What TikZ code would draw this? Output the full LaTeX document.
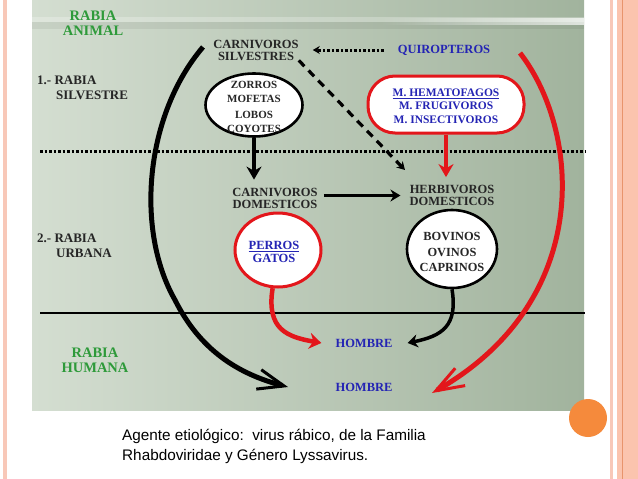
\documentclass[tikz,border=0pt]{standalone}
\usepackage{fontspec}
\setmainfont{Liberation Serif}
\newfontfamily\capfont{Liberation Sans}
\usetikzlibrary{arrows.meta,shapes.geometric,fadings}
\definecolor{panelL}{HTML}{D4DED1}
\definecolor{panelR}{HTML}{A1B39D}
\definecolor{grn}{HTML}{2E9A3A}
\definecolor{blu}{HTML}{2424B4}
\definecolor{rd}{HTML}{E3161B}
\definecolor{org}{HTML}{F58A3C}
\definecolor{pnk}{HTML}{F8C8B8}
\definecolor{salmon}{HTML}{FBC4AE}
\definecolor{salmondk}{HTML}{E8946C}
\definecolor{txt}{HTML}{262626}
\begin{document}
\begin{tikzpicture}[x=1pt,y=-1pt,
  lbl/.style={font=\bfseries\fontsize{12.5}{12}\selectfont, text=txt, align=center, inner sep=0pt},
  grnlbl/.style={font=\bfseries\fontsize{14.5}{15}\selectfont, text=grn, align=center, inner sep=0pt},
  leftlbl/.style={font=\bfseries\fontsize{13}{15.5}\selectfont, text=txt, align=left, inner sep=0pt, anchor=west},
  bluelbl/.style={font=\bfseries\fontsize{12.5}{12}\selectfont, text=blu, align=center, inner sep=0pt},
  blackbox/.style={draw=black, line width=2.6pt, fill=white, inner sep=0pt},
  redbox/.style={draw=rd, line width=3pt, fill=white, inner sep=0pt},
  caption/.style={font=\capfont\fontsize{15.3}{20}\selectfont, text=black, anchor=base west, inner sep=0pt},
  bigarc/.style={line width=5pt},
]
\useasboundingbox (0,0) rectangle (638,479);
\fill[white] (0,0) rectangle (638,479);
% page borders
\fill[pnk] (3,0) rectangle (7,479);
\fill[pnk] (610,0) rectangle (613,479);
\fill[salmon] (617,0) rectangle (638,479);
\fill[salmondk] (621.8,0) rectangle (623,479);
% panel
\shade[left color=panelL, right color=panelR] (32,0) rectangle (584,410);
\fill[black, opacity=0.06] (32,22) rectangle (584,29);
\fill[white, opacity=0.25] (32,17) rectangle (584,22);
\fill[white, opacity=0.7, path fading=west] (380,18) rectangle (584,25);
% orange dot
\fill[org] (588,418) circle (19);

% separators
\draw[line width=3pt, dash pattern=on 2.5pt off 2pt] (40,151) -- (585,151);
\draw[line width=2pt] (40,312.5) -- (585,312.5);

% text labels
\node[grnlbl] (ranimal) at (93,23) {RABIA\\ANIMAL};
\node[grnlbl] (rhumana) at (95,360) {RABIA\\HUMANA};
\node[leftlbl] (silv) at (37,88) {1.- RABIA\\\hspace*{19pt}SILVESTRE};
\node[leftlbl] (urb) at (37,246) {2.- RABIA\\\hspace*{19pt}URBANA};

\node[lbl] (csil) at (256,50) {CARNIVOROS\\SILVESTRES};
\node[bluelbl] (quiro) at (444,50) {QUIROPTEROS};
\node[lbl] (cdom) at (275,198) {CARNIVOROS\\DOMESTICOS};
\node[lbl] (herb) at (452,195.5) {HERBIVOROS\\DOMESTICOS};
\node[bluelbl] (h1) at (364,343) {HOMBRE};
\node[bluelbl] (h2) at (364,387) {HOMBRE};

% boxes
\node[blackbox, ellipse, minimum width=97pt, minimum height=63pt] (zorros) at (254,105) {};
\node[font=\bfseries\fontsize{11}{14}\selectfont, text=txt, align=center, inner sep=0pt] (zorrostxt) at (254,106.5) {ZORROS\\MOFETAS\\[2pt]LOBOS\\COYOTES};
\node[redbox, rectangle, rounded corners=27pt, minimum width=156pt, minimum height=57pt] (hema) at (446,104.5) {};
\node[font=\bfseries\fontsize{11.5}{13.5}\selectfont, text=blu, align=center, inner sep=0pt] (hematxt) at (446,106) {\underline{M. HEMATOFAGOS}\\M. FRUGIVOROS\\M. INSECTIVOROS};
\node[redbox, ellipse, minimum width=86pt, minimum height=74pt] (perros) at (278,250) {};
\node[font=\bfseries\fontsize{12.5}{13}\selectfont, text=blu, align=center, inner sep=0pt] (perrostxt) at (274,252) {\underline{PERROS}\\GATOS};
\node[blackbox, ellipse, minimum width=90pt, minimum height=78pt] (bov) at (452,249) {};
\node[font=\bfseries\fontsize{12.4}{15.5}\selectfont, text=txt, align=center, inner sep=0pt] (bovtxt) at (452,252) {BOVINOS\\OVINOS\\CAPRINOS};

% connectors
\draw[line width=3pt, dash pattern=on 2.5pt off 2pt, -{Stealth[length=7pt,width=8pt]}, shorten <=14pt, shorten >=14pt]
  (quiro.west) -- (csil.east |- quiro.west);
\coordinate (dashend) at (405,170);
\draw[line width=3.2pt, dash pattern=on 8pt off 6pt, -{Stealth[length=8pt,width=9pt]}] (csil.south east) -- (dashend);
\draw[line width=4pt, -{Stealth[length=13pt,width=15pt]}, shorten >=8pt] (zorros.south) -- (zorros.south |- cdom.north);
\draw[line width=4pt, rd, -{Stealth[length=13pt,width=15pt]}, shorten >=8pt] (hema.south) -- (hema.south |- herb.north);
\draw[line width=3pt, -{Stealth[length=10pt,width=12pt]}, shorten <=6pt, shorten >=9pt] (cdom.east |- herb.west) -- (herb.west);
\draw[line width=4.5pt, rd, -{Stealth[length=12pt,width=16pt]}] (perros.262) .. controls (266,330) and (288,337) .. ([xshift=-14pt]h1.west);
\draw[line width=3.5pt, -{Stealth[length=10pt,width=13pt]}] (bov.south) .. controls (458,326) and (442,336) .. ([xshift=15pt]h1.east);

% big arcs
\coordinate (bks) at (203,47);
\coordinate (bkm) at (175,300);
\coordinate (bke) at (288,387);
\draw[bigarc, -{Straight Barb[length=26pt,width=20pt,line width=3pt]}]
  (bks) .. controls (145,115) and (135,230) .. (bkm) .. controls (200,350) and (238,374) .. (bke);
\coordinate (rds) at (520,53);
\coordinate (rde) at (432,393);
\draw[bigarc, rd, -{Straight Barb[length=28pt,width=20pt,line width=3pt]}]
  (rds) .. controls (580,130) and (595,300) .. (rde);

% caption
\node[caption] (cap1) at (122,440) {Agente etiológico:\ \ virus rábico, de la Familia};
\node[caption] (cap2) at (122,460) {Rhabdoviridae y Género Lyssavirus.};
\end{tikzpicture}
\end{document}
